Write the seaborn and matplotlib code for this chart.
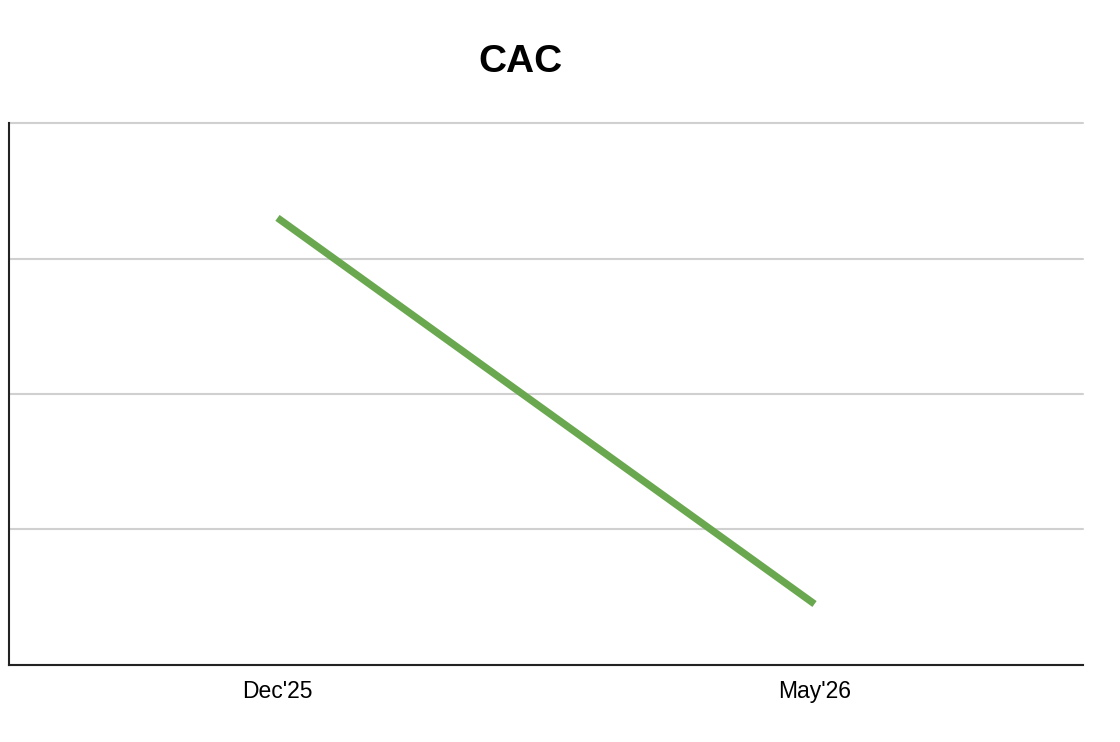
import matplotlib
matplotlib.use("Agg")
import matplotlib.pyplot as plt
import seaborn as sns
import pandas as pd

# データ
periods = ["Dec'25", "May'26"]
cac_values = [3.30, 0.45]

sns.set_theme(style="white")
plt.rcParams['font.family'] = ['Liberation Sans', 'DejaVu Sans']

df = pd.DataFrame({"period": periods, "CAC": cac_values})

fig = plt.figure(figsize=(11.2, 7.42), dpi=100)
ax = fig.add_axes([0.008, 0.1038, 0.959, 0.7304])

sns.lineplot(data=df, x="period", y="CAC", color="#6aa84f", linewidth=5.2,
             sort=False, solid_capstyle="butt", ax=ax)

ax.set_xlim(-0.5, 1.5)
ax.set_ylim(0, 4)
ax.set_yticks([0, 1, 2, 3, 4])
ax.set_yticklabels([])
ax.yaxis.grid(True, color="#d0d0d0", linewidth=1.5)
ax.xaxis.grid(False)
ax.set_xlabel("")
ax.set_ylabel("")
ax.tick_params(axis="x", length=0, pad=11, labelsize=16.5, colors="black")
ax.tick_params(axis="y", length=0)

for side in ["top", "right"]:
    ax.spines[side].set_visible(False)
for side in ["left", "bottom"]:
    ax.spines[side].set_color("#222222")
    ax.spines[side].set_linewidth(1.5)

# 上端のグリッド線がクリップされないように
for line in ax.get_ygridlines():
    line.set_clip_on(False)

fig.text(520 / 1120, 1 - 62 / 742, "CAC", ha="center", va="center",
         fontsize=28, fontweight="bold", color="black")

fig.savefig("out.png", dpi=100)
